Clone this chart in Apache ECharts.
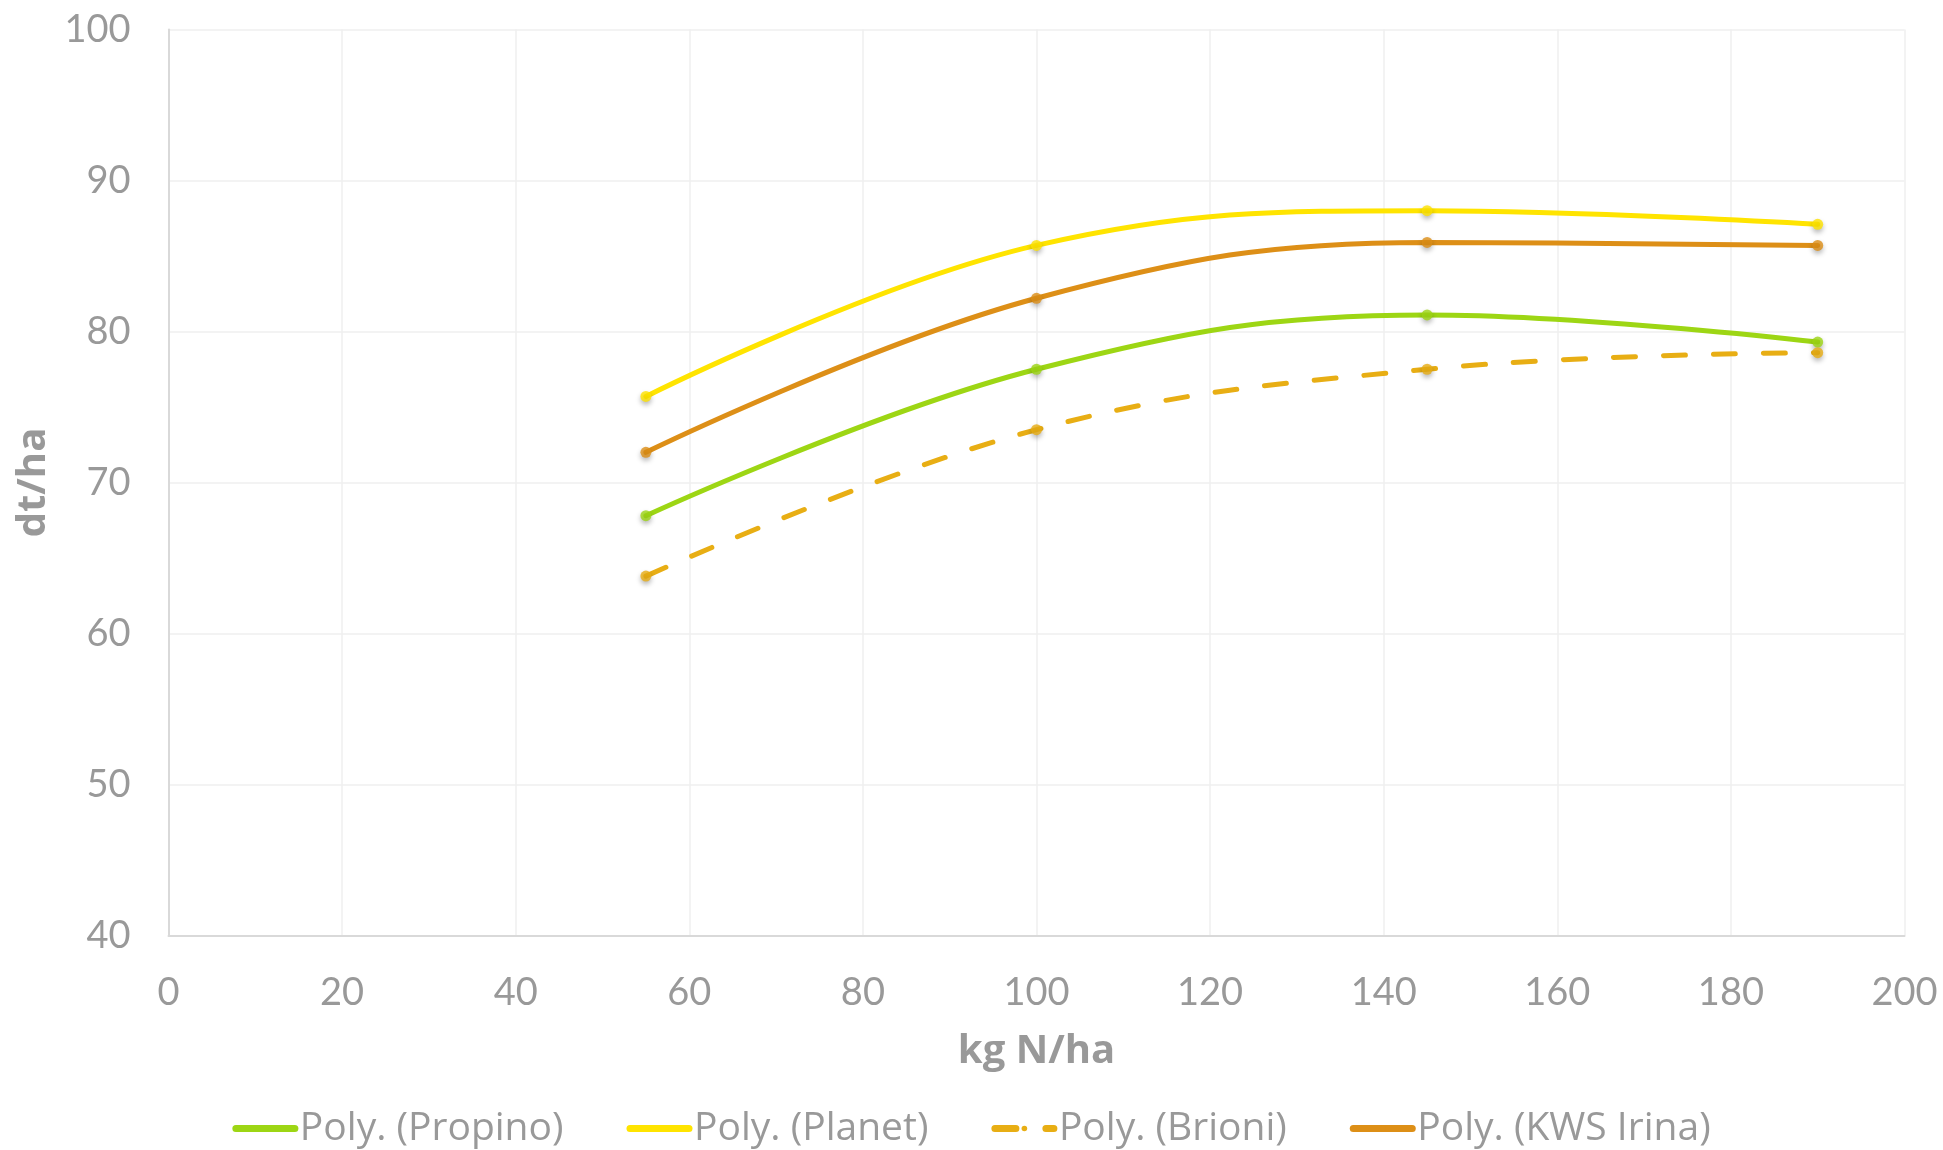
<!DOCTYPE html>
<html>
<head>
<meta charset="utf-8">
<script src="https://cdn.jsdelivr.net/npm/echarts@6/dist/echarts.min.js"></script>
<style>
html,body{margin:0;padding:0;background:#fff;}
#chart{width:1943px;height:1150px;}
</style>
</head>
<body>
<div id="chart"></div>
<script>
// Nitrogen rate (kg N/ha)
const nRates = [55, 100, 145, 190];
// Yields (dt/ha)
const propino  = [67.8, 77.5, 81.1, 79.3];
const planet   = [75.7, 85.7, 88.0, 87.1];
const brioni   = [63.8, 73.5, 77.5, 78.6];
const kwsIrina = [72.0, 82.2, 85.9, 85.7];

const seriesNames = ['Poly. (Propino)', 'Poly. (Planet)', 'Poly. (Brioni)', 'Poly. (KWS Irina)'];
const seriesData = [propino, planet, brioni, kwsIrina];
const seriesColors = ['#9dd614', '#ffe400', '#e8ae14', '#dd8f17'];
const seriesDash = ['solid', 'solid', [22, 28], 'solid'];

const pairs = arr => nRates.map((x, i) => [x, arr[i]]);

const series = [];
seriesData.forEach((d, i) => {
  series.push({
    name: seriesNames[i],
    type: 'line',
    data: pairs(d),
    smooth: 0.4,
    symbol: 'none',
    lineStyle: { color: seriesColors[i], width: 5, type: seriesDash[i], cap: 'round' },
    itemStyle: { color: seriesColors[i] },
    z: 3
  });
  series.push({
    name: seriesNames[i] + ' pts',
    type: 'scatter',
    data: pairs(d),
    symbol: 'circle',
    symbolSize: 11,
    itemStyle: {
      color: seriesColors[i],
      shadowBlur: 5,
      shadowColor: 'rgba(0,0,0,0.35)',
      shadowOffsetY: 3
    },
    z: 4
  });
});

const legendData = seriesNames.map((n, i) => (
  i === 2 ? { name: n, lineStyle: { type: [21, 30], width: 7, cap: 'round' } } : { name: n }
));

const chart = echarts.init(document.getElementById('chart'), null, { renderer: 'canvas' });
chart.setOption({
  animation: false,
  backgroundColor: '#ffffff',
  grid: { left: 168.5, right: 38.5, top: 29.5, bottom: 214.5, containLabel: false },
  legend: {
    data: legendData,
    top: 1104,
    left: 'center',
    itemWidth: 59,
    itemHeight: 7,
    itemGap: 63,
    lineStyle: { width: 7, cap: 'round' },
    textStyle: { fontFamily: 'Open Sans', fontSize: 39, color: '#999999' }
  },
  xAxis: {
    type: 'value',
    min: 0, max: 200, interval: 20,
    name: 'kg N/ha',
    nameLocation: 'middle',
    nameGap: 96,
    nameTextStyle: { fontFamily: 'Open Sans', fontWeight: 'bold', fontSize: 40, color: '#999999' },
    axisLine: { show: true, lineStyle: { color: '#d9d9d9', width: 2 } },
    axisTick: { show: false },
    axisLabel: { margin: 38.5, fontFamily: 'Lato', fontSize: 38, color: '#999999' },
    splitLine: { show: true, lineStyle: { color: '#efefef', width: 1.5 } }
  },
  yAxis: {
    type: 'value',
    min: 40, max: 100, interval: 10,
    name: 'dt/ha',
    nameLocation: 'middle',
    nameGap: 112,
    nameTextStyle: { fontFamily: 'Open Sans', fontWeight: 'bold', fontSize: 40, color: '#999999' },
    axisLine: { show: true, lineStyle: { color: '#d9d9d9', width: 2 } },
    axisTick: { show: false },
    axisLabel: { margin: 38, fontFamily: 'Lato', fontSize: 38, color: '#999999' },
    splitLine: { show: true, lineStyle: { color: '#efefef', width: 1.5 } }
  },
  series: series
});
</script>
</body>
</html>
